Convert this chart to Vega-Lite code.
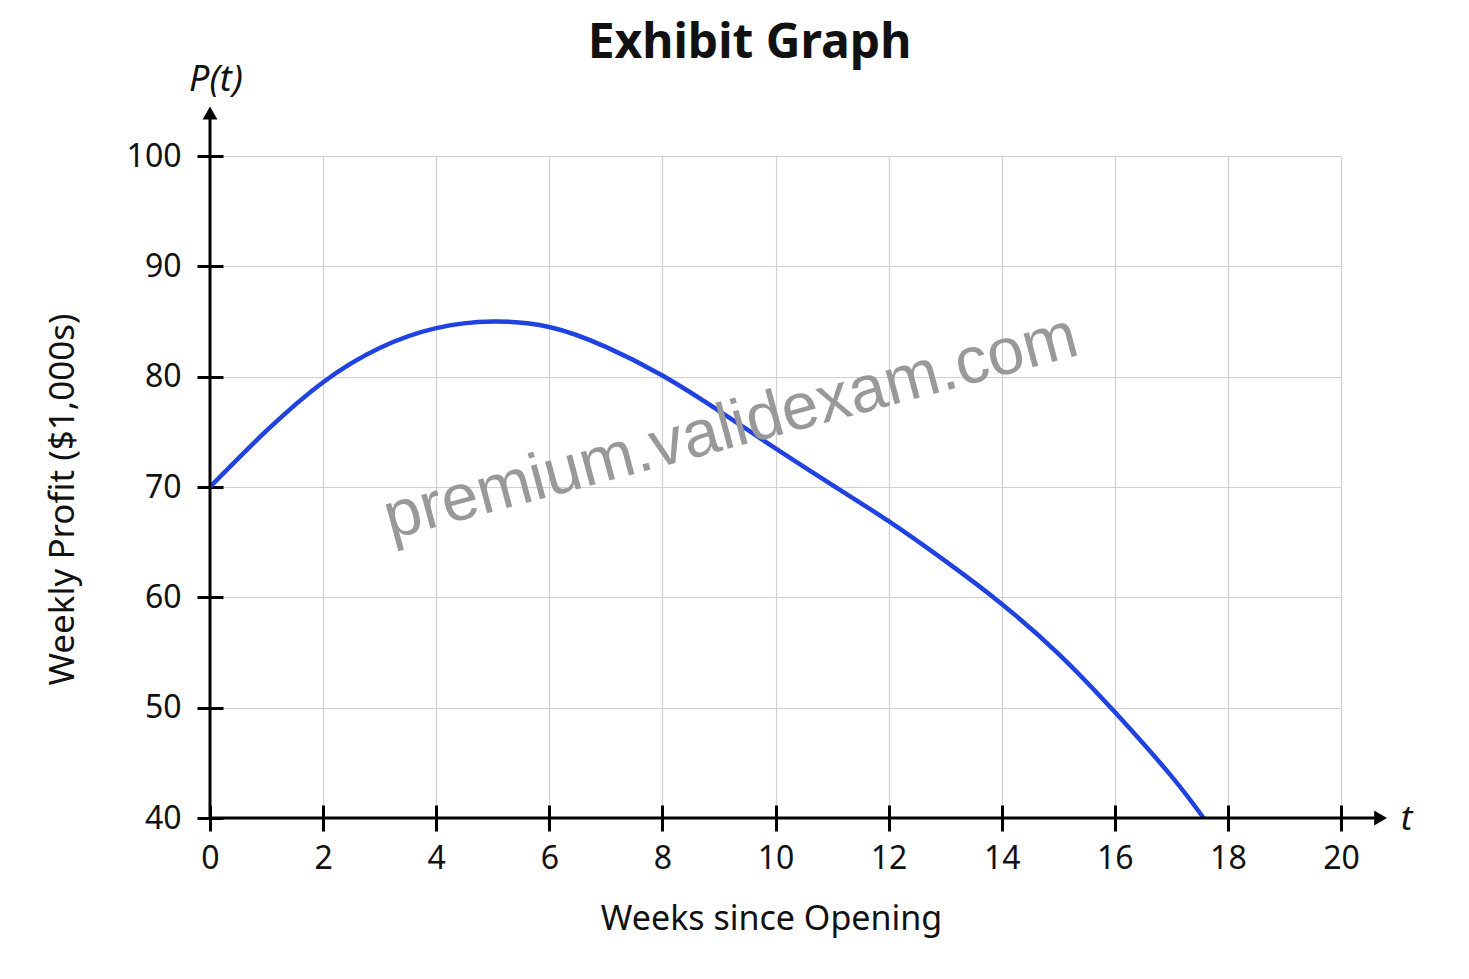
{
  "$schema": "https://vega.github.io/schema/vega-lite/v6.json",
  "width": 1131,
  "height": 662,
  "autosize": {"type": "none"},
  "padding": {"left": 210, "top": 156, "right": 128, "bottom": 161},
  "background": "white",
  "title": {
    "text": "Exhibit Graph",
    "font": "Noto Sans",
    "fontSize": 48,
    "fontWeight": "bold",
    "color": "#111111",
    "anchor": "middle",
    "dx": -26,
    "dy": 6,
    "offset": 0
  },
  "config": {"view": {"stroke": null}},
  "data": {"values": [{}]},
  "datasets": {
    "curve": [
      {"t": 0, "P": 70.0},
      {"t": 1, "P": 75.1},
      {"t": 2, "P": 79.5},
      {"t": 3, "P": 82.6},
      {"t": 4, "P": 84.4},
      {"t": 5, "P": 85.0},
      {"t": 6, "P": 84.5},
      {"t": 7, "P": 82.7},
      {"t": 8, "P": 80.1},
      {"t": 9, "P": 76.9},
      {"t": 10, "P": 73.5},
      {"t": 11, "P": 70.2},
      {"t": 12, "P": 66.9},
      {"t": 13, "P": 63.3},
      {"t": 14, "P": 59.4},
      {"t": 15, "P": 54.9},
      {"t": 16, "P": 49.6},
      {"t": 17, "P": 43.8},
      {"t": 17.57, "P": 40.0}
    ]
  },
  "layer": [
    {
      "data": {"name": "curve"},
      "mark": {"type": "line", "interpolate": "natural", "color": "#1f42e0", "strokeWidth": 4.5},
      "encoding": {
        "x": {
          "field": "t", "type": "quantitative",
          "scale": {"domain": [0, 20], "nice": false, "zero": false},
          "axis": {
            "orient": "bottom",
            "values": [0, 2, 4, 6, 8, 10, 12, 14, 16, 18, 20],
            "format": "d",
            "grid": true, "gridColor": "#d0d0d0", "gridWidth": 1.2,
            "domain": false,
            "ticks": true, "tickColor": "#000000", "tickWidth": 3, "tickSize": 26,
            "offset": -13,
            "labelFont": "Noto Sans", "labelFontSize": 32, "labelColor": "#111111",
            "labelPadding": 12, "labelFlush": false, "labelOverlap": false,
            "title": "Weeks since Opening",
            "titleFont": "Noto Sans", "titleFontSize": 34, "titleFontWeight": "normal",
            "titleColor": "#111111", "titlePadding": 28, "titleX": 561
          }
        },
        "y": {
          "field": "P", "type": "quantitative",
          "scale": {"domain": [40, 100], "nice": false, "zero": false},
          "axis": {
            "orient": "left",
            "values": [40, 50, 60, 70, 80, 90, 100],
            "format": "d",
            "grid": true, "gridColor": "#d0d0d0", "gridWidth": 1.2,
            "domain": false,
            "ticks": true, "tickColor": "#000000", "tickWidth": 3, "tickSize": 26,
            "offset": -13,
            "labelFont": "Noto Sans", "labelFontSize": 32, "labelColor": "#111111",
            "labelPadding": 16, "labelFlush": false, "labelOverlap": false,
            "title": "Weekly Profit ($1,000s)",
            "titleFont": "Noto Sans", "titleFontSize": 35, "titleFontWeight": "normal",
            "titleColor": "#111111", "titlePadding": 46, "titleY": 343
          }
        }
      }
    },
    {
      "mark": {"type": "rule", "color": "#000000", "strokeWidth": 3},
      "encoding": {
        "x": {"datum": 0, "type": "quantitative"},
        "y": {"datum": 40, "type": "quantitative"},
        "y2": {"datum": 103.5}
      }
    },
    {
      "mark": {"type": "rule", "color": "#000000", "strokeWidth": 3},
      "encoding": {
        "x": {"datum": 0, "type": "quantitative"},
        "x2": {"datum": 20.6},
        "y": {"datum": 40, "type": "quantitative"}
      }
    },
    {
      "mark": {"type": "point", "shape": "triangle-up", "filled": true, "color": "#000000", "size": 220, "opacity": 1},
      "encoding": {
        "x": {"datum": 0, "type": "quantitative"},
        "y": {"datum": 103.9, "type": "quantitative"}
      }
    },
    {
      "mark": {"type": "point", "shape": "triangle-right", "filled": true, "color": "#000000", "size": 220, "opacity": 1},
      "encoding": {
        "x": {"datum": 20.7, "type": "quantitative"},
        "y": {"datum": 40, "type": "quantitative"}
      }
    },
    {
      "mark": {"type": "text", "text": "P(t)", "font": "Noto Sans", "fontSize": 36, "fontStyle": "italic", "color": "#111111", "align": "center", "baseline": "middle", "dx": 6},
      "encoding": {
        "x": {"datum": 0, "type": "quantitative"},
        "y": {"datum": 106.9, "type": "quantitative"}
      }
    },
    {
      "mark": {"type": "text", "text": "t", "font": "Noto Sans", "fontSize": 35, "fontStyle": "italic", "color": "#111111", "align": "center", "baseline": "middle"},
      "encoding": {
        "x": {"datum": 21.16, "type": "quantitative"},
        "y": {"datum": 39.9, "type": "quantitative"}
      }
    },
    {
      "mark": {"type": "text", "text": "premium.validexam.com", "font": "Liberation Sans", "fontSize": 66, "color": "#999999", "align": "center", "baseline": "middle", "angle": -15},
      "encoding": {
        "x": {"datum": 9.21, "type": "quantitative"},
        "y": {"datum": 75.4, "type": "quantitative"}
      }
    }
  ]
}
